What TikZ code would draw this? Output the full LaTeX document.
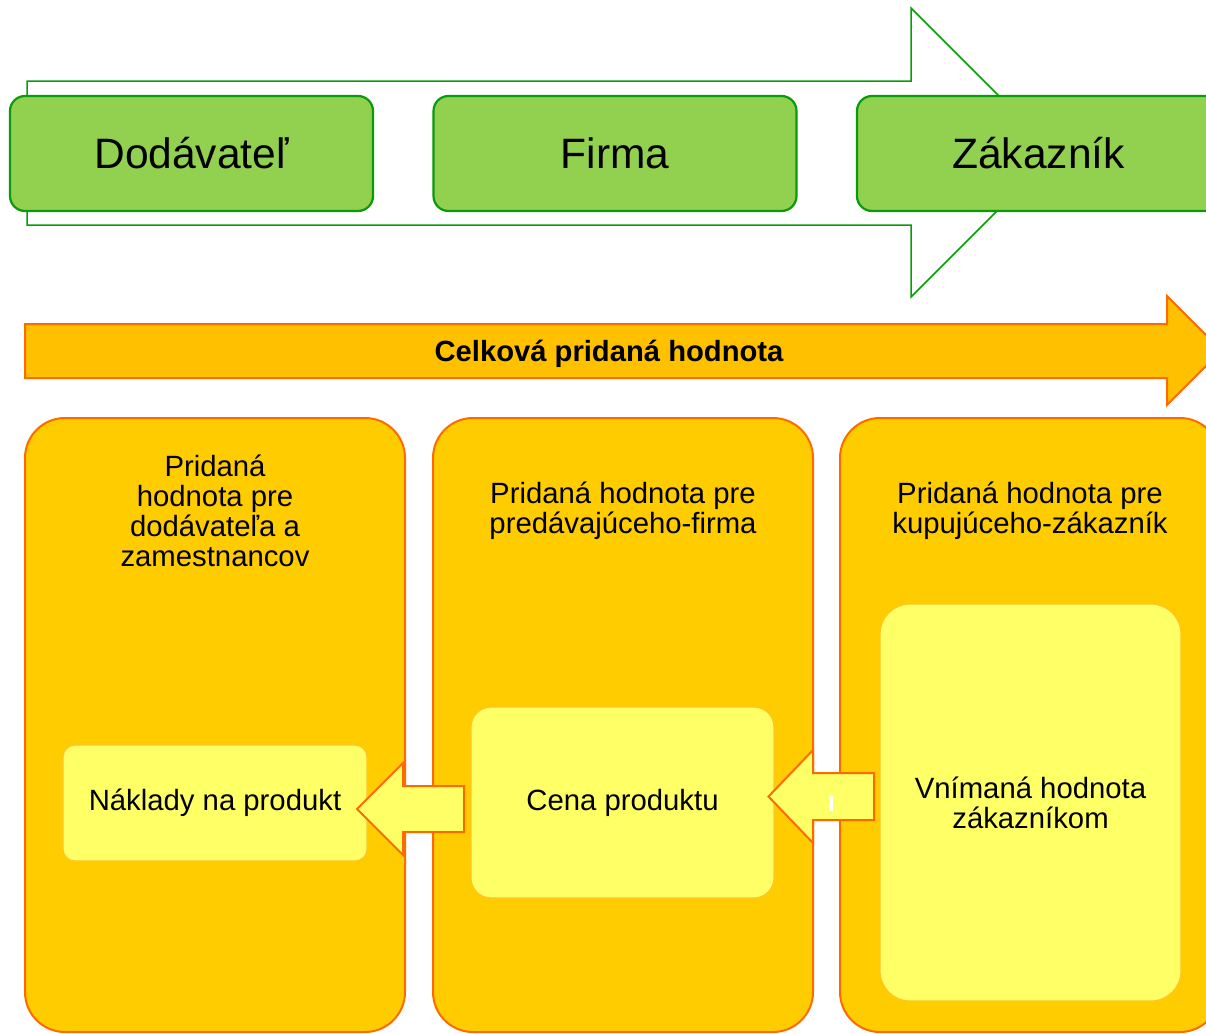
\documentclass[tikz,border=0pt]{standalone}
\usepackage{fontspec}
\setmainfont{Liberation Sans}
\definecolor{leafgreen}{HTML}{92D050}
\definecolor{flowgreen}{HTML}{0A9A0A}
\definecolor{amber}{HTML}{FFC000}
\definecolor{gold}{HTML}{FFCC00}
\definecolor{rim}{HTML}{FF6A00}
\definecolor{lemon}{HTML}{FFFF66}
\definecolor{lemonrim}{HTML}{FFC425}
\begin{document}
\begin{tikzpicture}[x=1pt,y=-1pt,line join=miter,
  partner/.style={draw=flowgreen,fill=leafgreen,line width=2.2pt,rounded corners=15pt,
    minimum width=363pt,minimum height=115pt,inner sep=0pt,
    font=\fontsize{42.5}{48}\selectfont},
  column/.style={draw=rim,fill=gold,line width=2pt,rounded corners=40pt,
    minimum width=380pt,minimum height=614pt,inner sep=0pt},
  collabel/.style={align=center,inner sep=0pt,font=\fontsize{29.3}{30}\selectfont},
  valuebox/.style={draw=lemonrim,fill=lemon,line width=1.2pt,inner sep=0pt,
    align=center,font=\fontsize{29.3}{30}\selectfont},
  flowarrow/.style={draw=rim,fill=lemon,line width=2pt}]
\useasboundingbox (0,0) rectangle (1206,1033);
\clip (0,0) rectangle (1206,1033);

% supply chain arrow behind the three partners
\draw[draw=flowgreen,line width=1.5pt,fill=white]
  (27,81) -- (911,81) -- (911,8) -- (1055.5,152.5) -- (911,297) -- (911,225) -- (27,225) -- cycle;
\node[partner] (dod)  at (191.5,153.5) {Dodávateľ};
\node[partner] (firm) at (615,153.5)   {Firma};
\node[partner] (zak)  at (1038.5,153.5){Zákazník};

% total added value band
\draw[draw=rim,fill=amber,line width=2pt]
  (25,324) -- (1167,324) -- (1167,296) -- (1221.5,350.5) -- (1167,405) -- (1167,378) -- (25,378) -- cycle;
\node[inner sep=0pt,font=\fontsize{29.2}{30}\selectfont\bfseries] (total) at (609,354) {Celková pridaná hodnota};

% columns
\node[column] (c1) at (215,725) {};
\node[column] (c2) at (623,725) {};
\node[column] (c3) at (1030,725) {};
\node[collabel] (l1) at (215,511) {Pridaná\\hodnota pre\\dodávateľa a\\zamestnancov};
\node[collabel] (l2) at (623,511) {Pridaná hodnota pre\\predávajúceho-firma};
\node[collabel] (l3) at (1030,511) {Pridaná hodnota pre\\kupujúceho-zákazník};

% value boxes
\node[valuebox,rounded corners=12pt,minimum width=304pt,minimum height=116pt] (cost)  at (215,803)    {Náklady na produkt};
\node[valuebox,rounded corners=20pt,minimum width=303pt,minimum height=191pt] (price) at (622.5,802.5) {Cena produktu};
\node[valuebox,rounded corners=30pt,minimum width=301pt,minimum height=397pt] (perc)  at (1030.5,802.5){Vnímaná hodnota\\zákazníkom};

% arrows between the value boxes
\draw[flowarrow] (464,786) -- (403,786) -- (403,763) -- (357,809) -- (403,855) -- (403,832) -- (464,832) -- cycle;
\draw[flowarrow] (874,773) -- (813,773) -- (813,750) -- (768.5,796.5) -- (813,843) -- (813,820) -- (874,820) -- cycle;
\fill[white] (829,796) rectangle (833,811);
\end{tikzpicture}
\end{document}
